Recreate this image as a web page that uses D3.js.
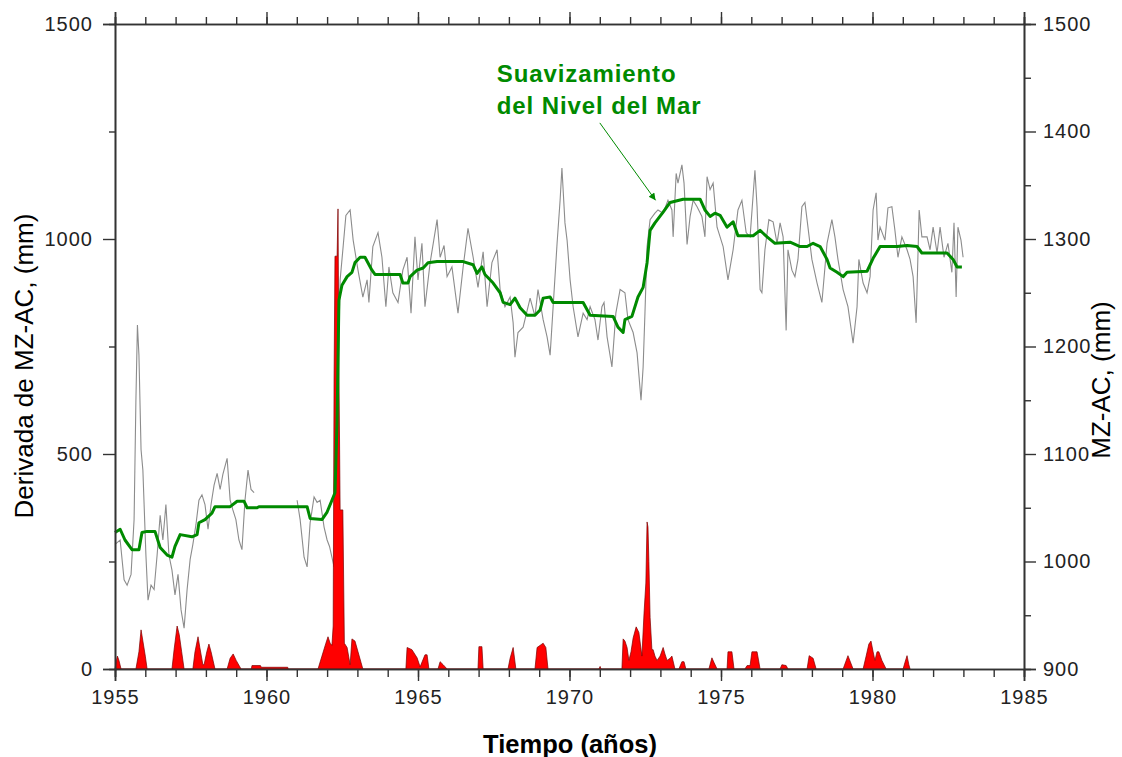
<!DOCTYPE html>
<html>
<head>
<meta charset="utf-8">
<script src="https://cdn.jsdelivr.net/npm/d3@7"></script>
<style>
  body { margin: 0; background: #fff; }
  svg { display: block; font-family: "Liberation Sans", Arial, sans-serif; }
</style>
</head>
<body>
<svg id="chart"></svg>
<script>
// x axis ticks
const yearMajor = [1955, 1960, 1965, 1970, 1975, 1980, 1985];
const yearMinor = d3.range(1955, 1986);
// left axis (derivada) ticks
const derivMajor = [0, 500, 1000, 1500];
const derivMinor = [250, 750, 1250];
// right axis (nivel) ticks
const levelMajor = [900, 1000, 1100, 1200, 1300, 1400, 1500];
const levelMinor = [950, 1050, 1150, 1250, 1350, 1450];

// nivel del mar mensual, MZ-AC (mm); null = sin dato
const seaLevel = [
  [1955.00,1016],[1955.17,1020],[1955.30,983],[1955.40,978],[1955.53,988],[1955.63,1039],
  [1955.69,1150],[1955.74,1220],[1955.79,1192],[1955.86,1104],[1955.92,1085],[1956.02,1006],
  [1956.09,964],[1956.19,978],[1956.29,974],[1956.39,1006],[1956.49,1043],[1956.58,1020],
  [1956.68,1053],[1956.78,1006],[1956.88,992],[1956.98,969],[1957.08,988],[1957.18,955],
  [1957.28,938],[1957.38,974],[1957.48,1002],[1957.57,1016],[1957.67,1034],[1957.77,1057],
  [1957.87,1062],[1957.97,1053],[1958.07,1030],[1958.17,1053],[1958.27,1071],[1958.37,1082],
  [1958.47,1067],[1958.56,1081],[1958.70,1096],[1958.80,1057],[1958.89,1048],[1958.99,1039],
  [1959.09,1020],[1959.19,1011],[1959.29,1057],[1959.39,1085],[1959.49,1067],[1959.59,1064],
  [1960.30,null],
  [1961.01,1057],[1961.11,1039],[1961.24,1004],[1961.34,995],[1961.44,1036],[1961.57,1060],
  [1961.67,1055],[1961.77,1057],[1961.90,1032],[1962.00,1020],[1962.08,1014],[1962.23,995],
  [1962.33,1132],[1962.43,1262],[1962.52,1290],[1962.62,1322],[1962.76,1327],[1962.86,1299],
  [1963.02,1271],[1963.18,1246],[1963.32,1262],[1963.38,1241],[1963.51,1293],[1963.68,1306],
  [1963.81,1283],[1963.94,1237],[1964.04,1274],[1964.17,1250],[1964.34,1241],[1964.50,1271],
  [1964.64,1283],[1964.77,1231],[1964.90,1302],[1965.00,1262],[1965.13,1296],[1965.23,1237],
  [1965.40,1278],[1965.63,1318],[1965.73,1283],[1965.86,1294],[1965.96,1265],[1966.12,1274],
  [1966.32,1231],[1966.49,1274],[1966.65,1310],[1966.82,1283],[1966.98,1255],[1967.15,1288],
  [1967.28,1237],[1967.44,1278],[1967.61,1290],[1967.71,1253],[1967.87,1237],[1968.04,1246],
  [1968.14,1222],[1968.20,1190],[1968.30,1213],[1968.47,1218],[1968.70,1245],[1968.86,1228],
  [1968.96,1253],[1969.13,1225],[1969.26,1209],[1969.36,1192],[1969.46,1237],[1969.59,1296],
  [1969.69,1336],[1969.75,1366],[1969.85,1315],[1969.92,1299],[1970.02,1262],[1970.12,1237],
  [1970.28,1209],[1970.45,1231],[1970.58,1225],[1970.68,1237],[1970.84,1225],[1970.94,1206],
  [1971.07,1237],[1971.14,1241],[1971.24,1209],[1971.40,1181],[1971.53,1231],[1971.67,1253],
  [1971.83,1250],[1971.93,1225],[1972.10,1213],[1972.23,1194],[1972.36,1150],[1972.43,1181],
  [1972.49,1231],[1972.56,1293],[1972.66,1318],[1972.82,1324],[1972.92,1327],[1973.09,1324],
  [1973.25,1336],[1973.38,1327],[1973.42,1302],[1973.52,1361],[1973.58,1352],[1973.71,1369],
  [1973.78,1352],[1973.88,1295],[1973.98,1321],[1974.08,1336],[1974.21,1330],[1974.37,1321],
  [1974.47,1302],[1974.54,1358],[1974.64,1346],[1974.74,1352],[1974.87,1311],[1975.07,1293],
  [1975.23,1262],[1975.40,1290],[1975.56,1327],[1975.69,1336],[1975.83,1306],[1975.96,1302],
  [1976.12,1364],[1976.19,1330],[1976.29,1253],[1976.35,1250],[1976.45,1290],[1976.58,1318],
  [1976.72,1316],[1976.85,1296],[1976.95,1315],[1977.05,1302],[1977.15,1215],[1977.21,1290],
  [1977.34,1271],[1977.44,1265],[1977.54,1281],[1977.67,1330],[1977.77,1334],[1977.87,1311],
  [1978.00,1281],[1978.17,1259],[1978.33,1241],[1978.50,1296],[1978.66,1318],[1978.76,1302],
  [1978.86,1281],[1979.03,1253],[1979.19,1237],[1979.36,1203],[1979.49,1237],[1979.55,1281],
  [1979.69,1259],[1979.82,1250],[1979.92,1265],[1980.02,1327],[1980.12,1343],[1980.18,1299],
  [1980.25,1311],[1980.41,1299],[1980.51,1329],[1980.64,1330],[1980.74,1308],[1980.84,1283],
  [1980.97,1302],[1981.14,1290],[1981.24,1281],[1981.34,1265],[1981.44,1222],[1981.54,1327],
  [1981.63,1302],[1981.80,1302],[1981.90,1290],[1982.00,1311],[1982.13,1287],[1982.23,1311],
  [1982.36,1283],[1982.49,1296],[1982.62,1269],[1982.69,1315],[1982.76,1246],[1982.82,1311],
  [1982.92,1299],[1982.99,1283]
];

// suavizamiento del nivel del mar (mm)
const seaSmooth = [
  [1955.00,1027],[1955.17,1030],[1955.33,1020],[1955.56,1011],[1955.79,1011],[1955.89,1027],
  [1956.06,1028],[1956.32,1028],[1956.49,1013],[1956.72,1006],[1956.88,1004],[1956.98,1014],
  [1957.15,1025],[1957.54,1023],[1957.71,1025],[1957.77,1036],[1957.97,1039],[1958.20,1045],
  [1958.30,1051],[1958.80,1051],[1959.03,1056],[1959.26,1056],[1959.36,1050],[1959.69,1050],
  [1959.75,1051],[1961.34,1051],[1961.44,1040],[1961.83,1039],[1962.00,1046],[1962.16,1057],
  [1962.26,1064],[1962.33,1132],[1962.39,1243],[1962.49,1257],[1962.66,1265],[1962.82,1269],
  [1962.92,1278],[1963.09,1283],[1963.25,1283],[1963.48,1271],[1963.58,1267],[1964.41,1267],
  [1964.50,1259],[1964.67,1259],[1964.74,1265],[1964.97,1271],[1965.17,1273],[1965.33,1278],
  [1965.63,1279],[1966.49,1279],[1966.82,1276],[1966.95,1268],[1967.11,1274],[1967.21,1267],
  [1967.48,1259],[1967.71,1250],[1967.81,1241],[1968.04,1239],[1968.20,1245],[1968.37,1236],
  [1968.60,1229],[1968.86,1229],[1969.03,1234],[1969.13,1245],[1969.36,1246],[1969.46,1241],
  [1970.45,1241],[1970.68,1229],[1971.44,1228],[1971.60,1218],[1971.77,1213],[1971.83,1225],
  [1972.06,1228],[1972.26,1246],[1972.43,1255],[1972.56,1278],[1972.66,1308],[1972.82,1315],
  [1973.09,1325],[1973.32,1334],[1973.75,1337],[1974.31,1337],[1974.47,1327],[1974.64,1321],
  [1974.80,1324],[1974.97,1322],[1975.20,1311],[1975.40,1316],[1975.56,1303],[1976.06,1303],
  [1976.29,1308],[1976.52,1302],[1976.78,1296],[1977.28,1297],[1977.61,1293],[1977.84,1293],
  [1978.04,1296],[1978.27,1293],[1978.50,1281],[1978.60,1273],[1978.83,1269],[1979.03,1265],
  [1979.16,1269],[1979.82,1270],[1980.02,1282],[1980.25,1293],[1980.81,1293],[1981.14,1294],
  [1981.47,1293],[1981.63,1287],[1982.46,1287],[1982.66,1281],[1982.79,1274],[1982.95,1274]
];

// derivada de MZ-AC (mm)
const derivative = [
  [1955.00,0],[1955.03,15],[1955.08,30],[1955.13,20],[1955.20,0],
  [1955.69,0],[1955.79,40],[1955.86,91],[1955.92,65],[1956.00,30],[1956.06,0],
  [1956.88,0],[1956.95,45],[1957.05,100],[1957.12,80],[1957.20,40],[1957.28,0],
  [1957.57,0],[1957.64,40],[1957.74,75],[1957.80,50],[1957.90,10],
  [1957.94,10],[1958.03,40],[1958.10,58],[1958.17,40],[1958.30,0],
  [1958.70,0],[1958.80,25],[1958.90,35],[1959.00,20],[1959.16,0],
  [1959.50,0],[1959.52,8],[1959.80,8],[1959.83,4],[1960.70,4],[1960.72,0],
  [1961.70,0],[1961.83,30],[1961.96,60],[1962.03,75],[1962.10,60],[1962.16,55],
  [1962.20,100],[1962.23,672],[1962.26,960],[1962.33,960],[1962.36,1070],[1962.39,700],
  [1962.43,370],[1962.52,370],[1962.57,60],[1962.66,50],[1962.76,10],[1962.82,70],
  [1962.92,65],[1963.02,40],[1963.12,15],[1963.18,0],
  [1964.60,0],[1964.64,50],[1964.80,45],[1964.97,26],[1965.07,5],[1965.23,33],[1965.30,33],[1965.36,0],
  [1965.66,0],[1965.73,17],[1965.83,10],[1965.96,0],
  [1966.98,0],[1967.01,52],[1967.11,52],[1967.15,0],
  [1967.97,0],[1968.04,25],[1968.14,50],[1968.23,0],
  [1968.86,0],[1968.93,50],[1969.13,60],[1969.22,50],[1969.29,0],
  [1970.97,0],[1971.01,6],[1971.04,0],
  [1971.73,0],[1971.77,70],[1971.83,65],[1971.90,50],[1971.96,20],[1972.03,40],[1972.10,72],
  [1972.20,98],[1972.29,85],[1972.39,30],[1972.46,130],[1972.52,200],[1972.56,342],[1972.59,330],
  [1972.62,250],[1972.66,120],[1972.72,45],[1972.76,45],[1972.82,30],[1972.89,20],[1972.99,30],
  [1973.09,50],[1973.15,35],[1973.22,20],[1973.32,25],[1973.38,30],[1973.48,0],
  [1973.61,0],[1973.71,17],[1973.78,17],[1973.84,0],
  [1974.60,0],[1974.70,26],[1974.77,15],[1974.87,0],
  [1975.20,0],[1975.23,40],[1975.36,40],[1975.43,0],
  [1975.79,0],[1975.86,8],[1975.96,8],[1976.02,40],[1976.19,40],[1976.29,0],
  [1976.95,0],[1977.01,10],[1977.15,8],[1977.21,0],
  [1977.84,0],[1977.91,31],[1978.04,25],[1978.14,0],
  [1979.03,0],[1979.19,31],[1979.36,0],
  [1979.69,0],[1979.79,30],[1979.88,58],[1979.95,65],[1980.02,40],[1980.08,20],[1980.15,40],
  [1980.21,40],[1980.31,20],[1980.45,0],
  [1981.01,0],[1981.07,15],[1981.14,31],[1981.20,10],[1981.24,0]
];

const width = 1122, height = 757;
const margin = {top: 24, right: 98, bottom: 88, left: 115};
const innerW = width - margin.left - margin.right;
const innerH = height - margin.top - margin.bottom;

const svg = d3.select('#chart').attr('width', width).attr('height', height);
const chart = svg.append('g').attr('transform', `translate(${margin.left}, ${margin.top})`);

const x = d3.scaleLinear().domain([1955, 1985]).range([0, innerW]);
const yLeft = d3.scaleLinear().domain([0, 1500]).range([innerH, 0]);
const yRight = d3.scaleLinear().domain([900, 1500]).range([innerH, 0]);

// series
const grayLine = d3.line()
  .defined(d => d[1] !== null)
  .x(d => x(d[0])).y(d => yRight(d[1]));
chart.append('path')
  .attr('d', grayLine(seaLevel))
  .attr('fill', 'none')
  .attr('stroke', '#8c8c8c')
  .attr('stroke-width', 1.1);

const area = d3.area()
  .x(d => x(d[0])).y0(yLeft(0)).y1(d => yLeft(d[1]));
chart.append('path')
  .attr('d', area(derivative))
  .attr('fill', '#ff0000')
  .attr('stroke', '#7a0000')
  .attr('stroke-width', 0.7);

const smoothLine = d3.line().x(d => x(d[0])).y(d => yRight(d[1]));
chart.append('path')
  .attr('d', smoothLine(seaSmooth))
  .attr('fill', 'none')
  .attr('stroke', '#008a00')
  .attr('stroke-width', 3)
  .attr('stroke-linejoin', 'round');

// axes
function styleAxis(g) {
  g.select('.domain').attr('stroke', '#333').attr('stroke-width', 1.6);
  g.selectAll('.tick line').attr('stroke', '#333').attr('stroke-width', 1.4);
  g.selectAll('text')
    .attr('fill', '#222')
    .style('font-size', '20px')
    .style('letter-spacing', '1px');
}

chart.append('g').attr('transform', `translate(0, ${innerH})`)
  .call(d3.axisBottom(x).tickValues(yearMinor).tickSize(8).tickFormat(''))
  .call(styleAxis);
chart.append('g').attr('transform', `translate(0, ${innerH})`)
  .call(d3.axisBottom(x).tickValues(yearMajor).tickSize(12).tickPadding(9).tickFormat(d3.format('d')))
  .call(styleAxis);

chart.append('g')
  .call(d3.axisTop(x).tickValues(yearMinor).tickSize(7).tickFormat(''))
  .call(styleAxis);
chart.append('g')
  .call(d3.axisTop(x).tickValues(yearMajor).tickSize(12).tickFormat(''))
  .call(styleAxis);

chart.append('g')
  .call(d3.axisLeft(yLeft).tickValues(derivMinor).tickSize(6).tickFormat(''))
  .call(styleAxis);
chart.append('g')
  .call(d3.axisLeft(yLeft).tickValues(derivMajor).tickSize(12).tickPadding(10).tickFormat(d3.format('d')))
  .call(styleAxis);

chart.append('g').attr('transform', `translate(${innerW}, 0)`)
  .call(d3.axisRight(yRight).tickValues(levelMinor).tickSize(7).tickFormat(''))
  .call(styleAxis);
chart.append('g').attr('transform', `translate(${innerW}, 0)`)
  .call(d3.axisRight(yRight).tickValues(levelMajor).tickSize(12).tickPadding(7).tickFormat(d3.format('d')))
  .call(styleAxis);

// axis titles
svg.append('text')
  .attr('x', 570)
  .attr('y', 753)
  .attr('text-anchor', 'middle')
  .style('font-size', '25.5px')
  .style('font-weight', 'bold')
  .text('Tiempo (años)');

svg.append('text')
  .attr('transform', 'translate(33, 366) rotate(-90)')
  .attr('text-anchor', 'middle')
  .style('font-size', '26px')
  .text('Derivada de MZ-AC, (mm)');

svg.append('text')
  .attr('transform', 'translate(1110, 380) rotate(-90)')
  .attr('text-anchor', 'middle')
  .style('font-size', '26px')
  .text('MZ-AC, (mm)');

// annotation
const note = svg.append('g').attr('fill', '#008a00')
  .style('font-size', '24px')
  .style('font-weight', 'bold')
  .style('letter-spacing', '0.9px');
note.append('text')
  .attr('x', margin.left + x(1967.6)).attr('y', 82)
  .text('Suavizamiento');
note.append('text')
  .attr('x', margin.left + x(1967.6)).attr('y', 114)
  .text('del Nivel del Mar');

svg.append('defs').append('marker')
  .attr('id', 'head')
  .attr('viewBox', '0 0 10 10')
  .attr('refX', 10).attr('refY', 5)
  .attr('markerWidth', 9).attr('markerHeight', 7)
  .attr('markerUnits', 'userSpaceOnUse')
  .attr('orient', 'auto')
  .append('path').attr('d', 'M0,0 L10,5 L0,10 z').attr('fill', '#008a00');

chart.append('line')
  .attr('x1', x(1971.0)).attr('y1', yRight(1408))
  .attr('x2', x(1972.84)).attr('y2', yRight(1336))
  .attr('stroke', '#008a00')
  .attr('stroke-width', 1)
  .attr('marker-end', 'url(#head)');
</script>
</body>
</html>
